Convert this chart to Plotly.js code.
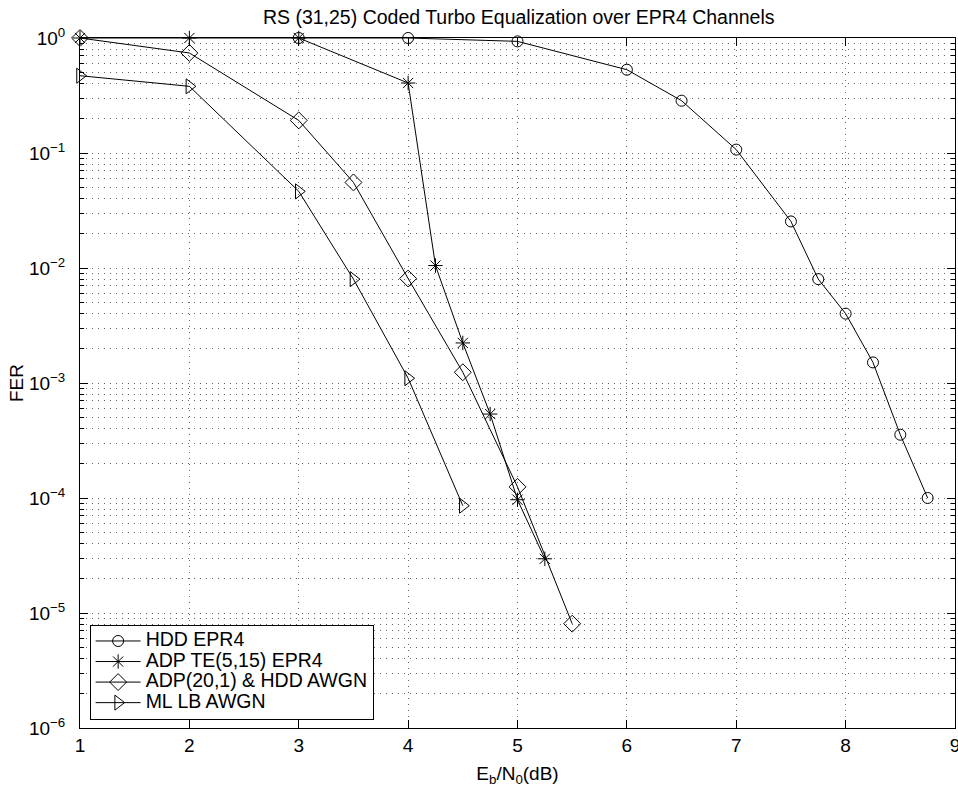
<!DOCTYPE html>
<html>
<head>
<meta charset="utf-8">
<script src="https://cdn.plot.ly/plotly-3.0.1.min.js"></script>
<style>html,body{margin:0;padding:0;background:#fff;}#chart{width:958px;height:787px;}</style>
</head>
<body>
<div id="chart"></div>
<script>
// ---- data ----
const seriesNames = ["HDD EPR4", "ADP TE(5,15) EPR4", "ADP(20,1) &amp; HDD AWGN", "ML LB AWGN"];

const hddX = [3, 4, 5, 6, 6.5, 7, 7.5, 7.75, 8, 8.25, 8.5, 8.75];
const hddY = [1.0, 1.0, 0.935, 0.53, 0.285, 0.107, 0.0254, 0.0080, 0.00401, 0.00151, 3.55e-4, 1.0e-4];

const teX = [1, 2, 3, 4, 4.25, 4.5, 4.75, 5, 5.25];
const teY = [1.0, 1.0, 1.0, 0.406, 0.0105, 0.00223, 5.37e-4, 9.66e-5, 2.96e-5];

const adpX = [1, 2, 3, 3.5, 4, 4.5, 5, 5.5];
const adpY = [1.0, 0.741, 0.192, 0.0555, 0.0081, 0.00124, 1.25e-4, 8.07e-6];

const mlX = [1, 2, 3, 3.5, 4, 4.5];
const mlY = [0.47, 0.38, 0.0464, 0.0080, 0.0011, 8.57e-5];

const xTicks = [1, 2, 3, 4, 5, 6, 7, 8, 9];
const yTickVals = [1e-6, 1e-5, 1e-4, 1e-3, 1e-2, 1e-1, 1];
const yTickText = ["10<sup>\u22126</sup>", "10<sup>\u22125</sup>", "10<sup>\u22124</sup>", "10<sup>\u22123</sup>",
                   "10<sup>\u22122</sup>", "10<sup>\u22121</sup>", "10<sup>0</sup>"];

// minor tick positions (2..9 within each decade)
const minorVals = [];
for (let e = -6; e < 0; e++) for (let m = 2; m <= 9; m++) minorVals.push(m * Math.pow(10, e));

const FONT = "Liberation Sans, Arial, Helvetica, sans-serif";
const symbols = ["circle-open", "asterisk-open", "diamond-open", "triangle-right-open"];
const sizes = [11, 12, 13, 13];
const xs = [hddX, teX, adpX, mlX];
const ys = [hddY, teY, adpY, mlY];

const traces = seriesNames.map((n, i) => ({
  type: "scatter", mode: "lines+markers",
  name: '<span style="font-size:19.5px">' + n + '</span>',
  x: xs[i], y: ys[i],
  line: {color: "#000", width: 1},
  marker: {symbol: symbols[i], size: sizes[i], color: "#000", line: {color: "#000", width: 1}},
  cliponaxis: false
}));

const dotGrid = "1px,5px";
const gridCol = "rgba(0,0,0,0.6)";
const layout = {
  width: 958, height: 787,
  paper_bgcolor: "#fff", plot_bgcolor: "#fff",
  margin: {l: 79.5, r: 2.7, t: 38.3, b: 58.7},
  font: {family: FONT, size: 19, color: "#000"},
  title: {text: "RS (31,25) Coded Turbo Equalization over EPR4 Channels",
          font: {family: FONT, size: 19.5, color: "#000"},
          x: 0.5415, xanchor: "center", y: 0.978, yanchor: "middle"},
  showlegend: true,
  legend: {x: 0.011, y: 0.1497, xanchor: "left", yanchor: "top",
           bgcolor: "#fff", bordercolor: "#000", borderwidth: 1,
           itemwidth: 45,
           font: {family: FONT, size: 13.5, color: "#000"}, tracegroupgap: 0},
  xaxis: {
    type: "linear", range: [1, 9], tickmode: "array", tickvals: xTicks,
    ticktext: xTicks.map(String), ticklabeloverflow: "allow",
    ticks: "inside", ticklen: 8, tickcolor: "#000", tickwidth: 1,
    showline: true, linecolor: "#000", linewidth: 1, mirror: "ticks",
    showgrid: true, gridcolor: gridCol, gridwidth: 1, griddash: dotGrid,
    zeroline: false,
    tickfont: {family: FONT, size: 19, color: "#000"},
    title: {text: "E<sub>b</sub>/N<sub>0</sub>(dB)", font: {family: FONT, size: 19, color: "#000"}, standoff: 11}
  },
  yaxis: {
    type: "log", range: [-6, 0], tickmode: "array", tickvals: yTickVals, ticktext: yTickText,
    ticks: "inside", ticklen: 8, tickcolor: "#000", tickwidth: 1,
    showline: true, linecolor: "#000", linewidth: 1, mirror: "ticks",
    showgrid: true, gridcolor: gridCol, gridwidth: 1, griddash: dotGrid,
    zeroline: false, ticklabelstandoff: 10,
    minor: {tickmode: "array", tickvals: minorVals, ticks: "inside", ticklen: 4,
            tickcolor: "#000", showgrid: true, gridcolor: gridCol, griddash: dotGrid, gridwidth: 1},
    tickfont: {family: FONT, size: 19, color: "#000"},
    title: {text: "FER", font: {family: FONT, size: 19, color: "#000"}, standoff: 0}
  }
};

Plotly.newPlot("chart", traces, layout, {staticPlot: true, displayModeBar: false});
</script>
</body>
</html>
